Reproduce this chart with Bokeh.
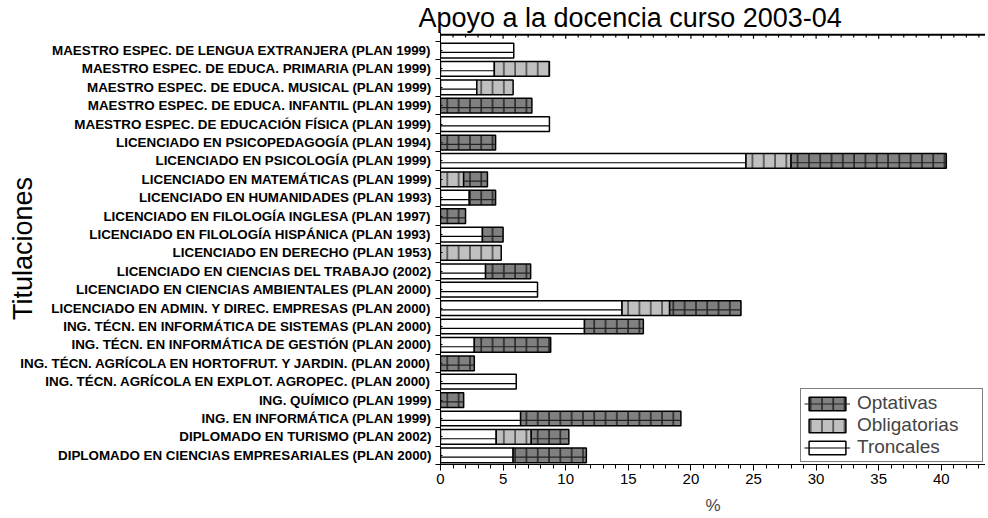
import numpy as np
from bokeh.plotting import figure
from bokeh.models import (Range1d, FixedTicker, SingleIntervalTicker, Span,
                          Legend, LegendItem, ColumnDataSource, Title)
from bokeh.embed import file_html
from bokeh.resources import INLINE

titulaciones = [
    "MAESTRO ESPEC. DE LENGUA EXTRANJERA (PLAN 1999)",
    "MAESTRO ESPEC. DE EDUCA. PRIMARIA (PLAN 1999)",
    "MAESTRO ESPEC. DE EDUCA. MUSICAL (PLAN 1999)",
    "MAESTRO ESPEC. DE EDUCA. INFANTIL (PLAN 1999)",
    "MAESTRO ESPEC. DE EDUCACIÓN FÍSICA (PLAN 1999)",
    "LICENCIADO EN PSICOPEDAGOGÍA (PLAN 1994)",
    "LICENCIADO EN PSICOLOGÍA (PLAN 1999)",
    "LICENCIADO EN MATEMÁTICAS (PLAN 1999)",
    "LICENCIADO EN HUMANIDADES (PLAN 1993)",
    "LICENCIADO EN FILOLOGÍA INGLESA (PLAN 1997)",
    "LICENCIADO EN FILOLOGÍA HISPÁNICA (PLAN 1993)",
    "LICENCIADO EN DERECHO (PLAN 1953)",
    "LICENCIADO EN CIENCIAS DEL TRABAJO (2002)",
    "LICENCIADO EN CIENCIAS AMBIENTALES (PLAN 2000)",
    "LICENCIADO EN ADMIN. Y DIREC. EMPRESAS (PLAN 2000)",
    "ING. TÉCN. EN INFORMÁTICA DE SISTEMAS (PLAN 2000)",
    "ING. TÉCN. EN INFORMÁTICA DE GESTIÓN (PLAN 2000)",
    "ING. TÉCN. AGRÍCOLA EN HORTOFRUT. Y JARDIN. (PLAN 2000)",
    "ING. TÉCN. AGRÍCOLA EN EXPLOT. AGROPEC. (PLAN 2000)",
    "ING. QUÍMICO (PLAN 1999)",
    "ING. EN INFORMÁTICA (PLAN 1999)",
    "DIPLOMADO EN TURISMO (PLAN 2002)",
    "DIPLOMADO EN CIENCIAS EMPRESARIALES (PLAN 2000)",
]
troncales = [5.85, 4.3, 2.9, 0, 8.7, 0, 24.4, 0, 2.3, 0, 3.35, 0, 3.6, 7.75,
             14.5, 11.5, 2.7, 0, 6.05, 0, 6.4, 4.45, 5.8]
obligatorias = [0, 4.4, 2.9, 0, 0, 0, 3.6, 1.85, 0, 0, 0, 4.85, 0, 0,
                3.8, 0, 0, 0, 0, 0, 0, 2.8, 0]
optativas = [0, 0, 0, 7.3, 0, 4.4, 12.4, 1.9, 2.1, 2.0, 1.65, 0, 3.6, 0,
             5.7, 4.7, 6.1, 2.7, 0, 1.85, 12.8, 3.0, 5.85]

FONT = "Liberation Sans"
X_MAX = 43.53
Y_TOP = -0.86
n = len(titulaciones)
idx = np.arange(n)
tron = np.array(troncales, dtype=float)
obl = np.array(obligatorias, dtype=float)
opt = np.array(optativas, dtype=float)


def seg_source(left, right):
    m = right > left
    return ColumnDataSource(dict(y=idx[m], left=left[m], right=right[m],
                                 yline=idx[m] + 0.1))


src_t = seg_source(np.zeros(n), tron)
src_b = seg_source(tron, tron + obl)
src_o = seg_source(tron + obl, tron + obl + opt)

p = figure(width=985, height=517, output_backend="svg", toolbar_location=None,
           x_range=Range1d(0, X_MAX), y_range=Range1d(22.5, Y_TOP - 0.12),
           min_border_left=440, min_border_right=0, min_border_top=22,
           min_border_bottom=30, title=None)
p.outline_line_color = None
p.xgrid.visible = False
p.ygrid.visible = False

BH = 0.8
r_t = p.hbar(y="y", left="left", right="right", height=BH, source=src_t,
             fill_color="white", line_color="black", line_width=1.5)
l_t = p.segment(x0="left", y0="yline", x1="right", y1="yline", source=src_t,
                line_color="black", line_width=1.2)
r_b = p.hbar(y="y", left="left", right="right", height=BH, source=src_b,
             fill_color="#c0c0c0", line_color="black", line_width=1.5,
             hatch_pattern="vertical_line", hatch_scale=11.3,
             hatch_color="#444444", hatch_weight=1.5)
r_o = p.hbar(y="y", left="left", right="right", height=BH, source=src_o,
             fill_color="#808080", line_color="black", line_width=1.5,
             hatch_pattern="vertical_line", hatch_scale=11.3,
             hatch_color="#222222", hatch_weight=1.5)
l_o = p.segment(x0="left", y0="yline", x1="right", y1="yline", source=src_o,
                line_color="#222222", line_width=1.2)

# top frame line with small inward ticks (mirrors the bottom axis ticks)
p.add_layout(Span(location=Y_TOP, dimension="width", line_color="black",
                  line_width=2, level="overlay"))
tick_x = np.arange(0, X_MAX, 1.0)
tick_len = np.where(tick_x % 5 == 0, 0.22, 0.15)
p.segment(x0=tick_x, y0=np.full_like(tick_x, Y_TOP), x1=tick_x,
          y1=Y_TOP + tick_len, line_color="black", line_width=1.2)

# bottom axis
xa = p.below[0]
xa.ticker = SingleIntervalTicker(interval=5, num_minor_ticks=5)
xa.major_tick_out = 6
xa.major_tick_in = 0
xa.minor_tick_out = 4
xa.minor_tick_in = 0
xa.axis_line_color = "black"
xa.major_tick_line_color = "black"
xa.minor_tick_line_color = "black"
xa.major_label_text_font = FONT
xa.major_label_text_font_size = "15px"
xa.major_label_text_color = "black"
xa.major_label_standoff = 3
xa.axis_label = "%"
xa.axis_label_text_font = FONT
xa.axis_label_text_font_size = "17px"
xa.axis_label_text_font_style = "normal"
xa.axis_label_standoff = 9

# left axis
ya = p.left[0]
ya.ticker = FixedTicker(ticks=list(idx), minor_ticks=list(np.arange(-1, n) + 0.5))
ya.major_label_overrides = {int(i): t for i, t in zip(idx, titulaciones)}
ya.major_tick_out = 0
ya.major_tick_in = 2
ya.minor_tick_out = 5
ya.minor_tick_in = 0
ya.axis_line_color = "black"
ya.minor_tick_line_color = "black"
ya.major_tick_line_color = "black"
ya.major_label_text_font = FONT
ya.major_label_text_font_size = "13.4px"
ya.major_label_text_font_style = "bold"
ya.major_label_text_color = "black"
ya.major_label_standoff = 4
ya.axis_label = "Titulaciones"
ya.axis_label_text_font = FONT
ya.axis_label_text_font_size = "27px"
ya.axis_label_text_font_style = "normal"
ya.axis_label_text_color = "black"
ya.axis_label_standoff = -21

title = Title(text="Apoyo a la docencia curso 2003-04", text_font=FONT,
              text_font_size="27px", text_font_style="normal", align="left",
              offset=-22, standoff=0, text_color="black",
              background_fill_color=None, border_line_color=None)
p.add_layout(title, "above")

legend = Legend(items=[LegendItem(label="Optativas", renderers=[r_o, l_o]),
                       LegendItem(label="Obligatorias", renderers=[r_b]),
                       LegendItem(label="Troncales", renderers=[r_t, l_t])],
                location="bottom_right", border_line_color="black",
                border_line_width=1.2, glyph_width=46, glyph_height=17,
                label_height=19, label_width=122, spacing=0, padding=3,
                margin=2, label_standoff=7, label_text_font=FONT,
                label_text_font_size="19px", background_fill_alpha=1)
p.add_layout(legend)

open("out.html", "w").write(file_html(p, INLINE))
